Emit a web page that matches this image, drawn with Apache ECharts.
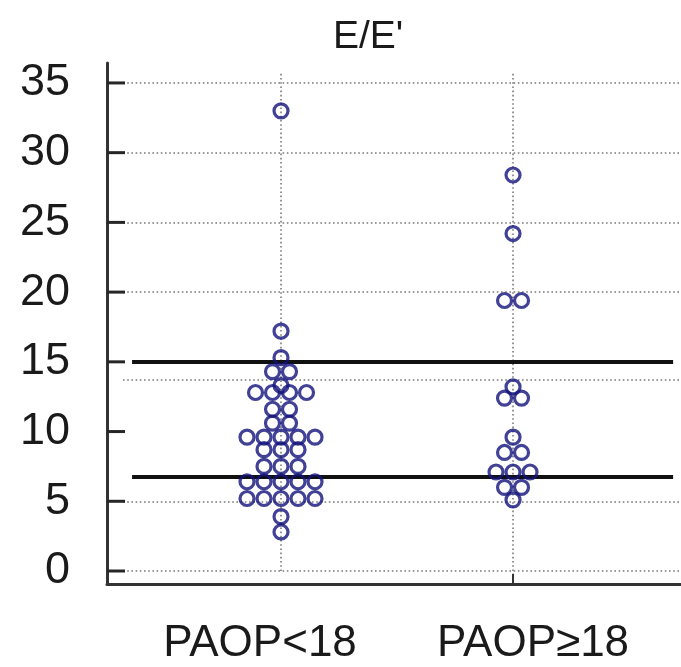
<!DOCTYPE html>
<html>
<head>
<meta charset="utf-8">
<script src="https://cdn.jsdelivr.net/npm/echarts@6/dist/echarts.min.js"></script>
<style>
  html, body { margin: 0; padding: 0; background: #fff; }
  #chart { width: 681px; height: 667px; }
</style>
</head>
<body>
<div id="chart"></div>
<script>
// Group labels and E/E' values per group (tied values sit side by side)
const categories = ['PAOP<18', 'PAOP≥18'];
const paopBelow18 = [33.0, 17.2, 15.3, 14.3, 14.3, 13.3, 12.8, 12.8, 12.8, 12.8,
  11.6, 11.6, 10.6, 10.6, 9.6, 9.6, 9.6, 9.6, 9.6, 8.7, 8.7, 8.7,
  7.5, 7.5, 7.5, 6.4, 6.4, 6.4, 6.4, 6.4, 5.2, 5.2, 5.2, 5.2, 5.2, 3.9, 2.8];
const paopAbove18 = [28.4, 24.2, 19.4, 19.4, 13.2, 12.4, 12.4, 9.6, 8.5, 8.5,
  7.1, 7.1, 7.1, 6.0, 6.0, 5.1];
const cutoffLines = [15, 6.75];
const yTickValues = [0, 5, 10, 15, 20, 25, 30, 35];
const dottedGridValues = [0, 5, 13.7, 20, 25, 30, 35];

const DOT_SPACING = 17;      // px between side-by-side dots
const DOT_COLOR = '#12127a';
const FONT = '"Liberation Sans", Arial, sans-serif';
const TEXT_COLOR = '#1a1a1a';
const AXIS_COLOR = '#333';
const TICK_LEN = 18, TICK_WIDTH = 3;

// Spread equal values horizontally, centred on the group position
function swarm(values, xPos) {
  const counts = {};
  values.forEach(v => { counts[v] = (counts[v] || 0) + 1; });
  const seen = {};
  return values.map(v => {
    const n = counts[v];
    const i = seen[v] = (seen[v] === undefined ? 0 : seen[v] + 1);
    return { value: [xPos, v], symbolOffset: [(i - (n - 1) / 2) * DOT_SPACING, 0] };
  });
}

// Frame axes run a little beyond the 0–35 data range
const X_MIN = 0.25, X_MAX = 2.724;
const Y_MIN = -0.932, Y_MAX = 36.43;
const gridStartX = 0.319, refStartX = 0.358, refEndX = 2.69;

const gridLines = dottedGridValues.map(y => [{ coord: [gridStartX, y] }, { coord: [X_MAX, y] }])
  .concat([1, 2].map(x => [{ coord: [x, 0] }, { coord: [x, 35.8] }]));
const refLines = cutoffLines.map(y => [{ coord: [refStartX, y] }, { coord: [refEndX, y] }]);
const groupTick = [[{ coord: [2, Y_MIN + 0.01] }, { coord: [2, -0.2] }]];

const dotStyle = { color: 'rgba(0,0,0,0)', borderColor: DOT_COLOR, borderWidth: 3.2 };

function lineLayer(data, lineStyle, z) {
  return {
    type: 'line', data: [], silent: true, z: z,
    markLine: { silent: true, symbol: 'none', label: { show: false }, lineStyle: lineStyle, data: data }
  };
}

const chart = echarts.init(document.getElementById('chart'), null, { renderer: 'canvas' });
chart.setOption({
  animation: false,
  backgroundColor: '#fff',
  title: {
    text: "E/E'",
    left: 328, top: 13,
    textStyle: { fontFamily: FONT, fontSize: 39, fontWeight: 'normal', color: TEXT_COLOR }
  },
  grid: { left: 107, right: 0, top: 63, bottom: 83, containLabel: false },
  xAxis: {
    type: 'value', min: X_MIN, max: X_MAX,
    splitLine: { show: false },
    axisLine: { show: true, onZero: false, lineStyle: { color: AXIS_COLOR, width: 3 } },
    axisTick: { show: false },
    axisLabel: {
      customValues: [1, 2], margin: 38,
      formatter: v => v === 1 ? '{a|' + categories[0] + '}' : '{b|' + categories[1] + '}',
      rich: {
        a: { fontFamily: FONT, fontSize: 44, color: TEXT_COLOR, padding: [0, 42, 0, 0] },
        b: { fontFamily: FONT, fontSize: 44, color: TEXT_COLOR, padding: [0, 0, 0, 40] }
      }
    }
  },
  yAxis: {
    type: 'value', min: Y_MIN, max: Y_MAX,
    splitLine: { show: false },
    axisLine: { show: true, onZero: false, lineStyle: { color: AXIS_COLOR, width: 3 } },
    axisTick: { show: false },
    axisLabel: {
      customValues: yTickValues, margin: 37,
      fontFamily: FONT, fontSize: 45, color: TEXT_COLOR
    }
  },
  series: [
    lineLayer(gridLines, { color: '#7a7a7a', width: 1.6, type: [1.6, 2.6] }, 2),
    lineLayer(refLines, { color: '#111', width: 4, type: 'solid' }, 3),
    lineLayer(groupTick, { color: AXIS_COLOR, width: 2, type: 'solid' }, 3),
    {
      // inward ticks on the value axis, drawn as thin bars anchored at the axis
      type: 'scatter', silent: true, z: 6, clip: false,
      symbol: 'rect', symbolSize: [TICK_LEN, TICK_WIDTH], symbolOffset: [TICK_LEN / 2, 0],
      itemStyle: { color: '#262626', opacity: 1 },
      data: yTickValues.map(v => [X_MIN, v])
    },
    {
      type: 'scatter', z: 5,
      symbol: 'circle', symbolSize: 14,
      itemStyle: dotStyle,
      data: swarm(paopBelow18, 1)
    },
    {
      type: 'scatter', z: 5,
      symbol: 'circle', symbolSize: 14,
      itemStyle: dotStyle,
      data: swarm(paopAbove18, 2)
    }
  ]
});
</script>
</body>
</html>
